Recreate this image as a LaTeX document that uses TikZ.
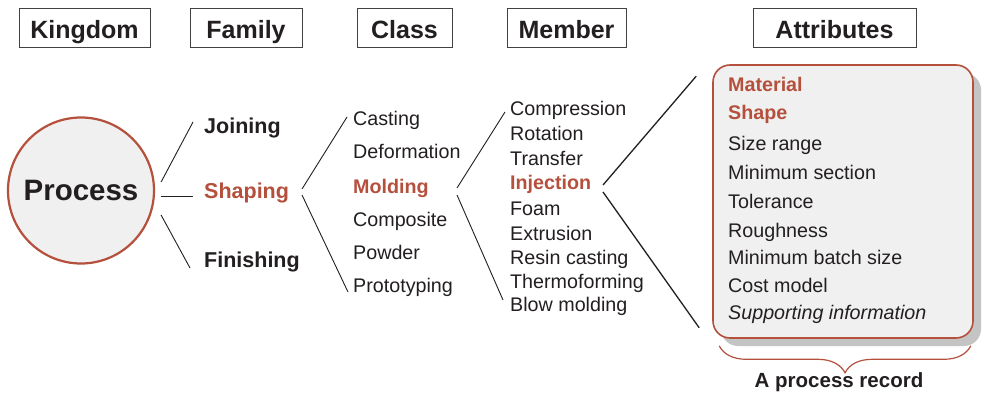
\documentclass[tikz,border=0pt]{standalone}
\usepackage{fontspec}
\setmainfont{Liberation Sans}
\usetikzlibrary{shadows,decorations.pathreplacing}
\definecolor{recred}{HTML}{B5503C}
\definecolor{ink}{HTML}{231F20}
\definecolor{panel}{HTML}{F0F0F0}
\definecolor{shade}{HTML}{C4C4C4}
\begin{document}
\begin{tikzpicture}[x=1pt,y=-1pt,
  hdr/.style={draw=ink!85, line width=0.9pt, minimum height=39pt, inner sep=0pt, text=ink,
    text height=22pt, text depth=0pt,
    font=\fontsize{25}{29}\selectfont\bfseries},
  fam/.style={anchor=base west, inner sep=0pt, text=ink, font=\fontsize{21.5}{25}\selectfont\bfseries},
  famhl/.style={fam, text=recred},
  item/.style={anchor=base west, inner sep=0pt, text=ink, font=\fontsize{19.7}{23}\selectfont},
  itemhl/.style={anchor=base west, inner sep=0pt, text=recred, font=\fontsize{19.7}{23}\selectfont\bfseries},
  itemit/.style={anchor=base west, inner sep=0pt, text=ink, font=\fontsize{19.7}{23}\selectfont\itshape},
  conn/.style={draw=ink, line width=0.9pt},
  connb/.style={draw=ink, line width=1.3pt},
]
\useasboundingbox[fill=white] (0,0) rectangle (984,396);

% headers
\node[hdr, minimum width=131pt] (hk) at (84.5,27.5) {Kingdom};
\node[hdr, minimum width=112pt] (hf) at (246,27.5) {Family};
\node[hdr, minimum width=95pt]  (hc) at (404.5,27.5) {Class};
\node[hdr, minimum width=119pt] (hm) at (566.5,27.5) {Member};
\node[hdr, minimum width=163pt] (ha) at (834.5,27.5) {Attributes};

% kingdom
\node[circle, draw=recred, line width=2.2pt, fill=panel, minimum size=146pt, inner sep=0pt,
  text=ink, font=\fontsize{29.5}{33}\selectfont\bfseries] (process) at (81,190.5) {Process};

% family
\node[fam]   (joining)   at (204,133) {Joining};
\node[famhl] (shaping)   at (204,198) {Shaping};
\node[fam]   (finishing) at (204,267) {Finishing};

% class
\node[item]   (casting)     at (353,125) {Casting};
\node[item]   (deformation) at (353,158) {Deformation};
\node[itemhl] (molding)     at (353,193) {Molding};
\node[item]   (composite)   at (353,226) {Composite};
\node[item]   (powder)      at (353,259) {Powder};
\node[item]   (prototyping) at (353,292) {Prototyping};

% member
\node[item]   (compression) at (510,115) {Compression};
\node[item]   (rotation)    at (510,140) {Rotation};
\node[item]   (transfer)    at (510,165) {Transfer};
\node[itemhl] (injection)   at (510,189) {Injection};
\node[item]   (foam)        at (510,215) {Foam};
\node[item]   (extrusion)   at (510,240) {Extrusion};
\node[item]   (resin)       at (510,264) {Resin casting};
\node[item]   (thermo)      at (510,288) {Thermoforming};
\node[item]   (blow)        at (510,311) {Blow molding};

% record box
\node[draw=recred, line width=1.6pt, fill=panel, rounded corners=17pt,
  minimum width=260pt, minimum height=273pt, inner sep=0pt,
  drop shadow={shadow xshift=8pt, shadow yshift=-8pt, fill=shade, opacity=1}] (record) at (843,201.5) {};

\node[itemhl] (a1) at (728,91)  {Material};
\node[itemhl] (a2) at (728,119) {Shape};
\node[item]   (a3) at (728,150) {Size range};
\node[item]   (a4) at (728,179) {Minimum section};
\node[item]   (a5) at (728,208) {Tolerance};
\node[item]   (a6) at (728,237) {Roughness};
\node[item]   (a7) at (728,264) {Minimum batch size};
\node[item]   (a8) at (728,292) {Cost model};
\node[itemit] (a9) at (728,319) {Supporting information};

% brace and label
\draw[recred, line width=1.2pt, decorate, decoration={brace, amplitude=27pt}]
  ([shift={(-3,7)}]record.south east) -- ([shift={(7,7)}]record.south west);
\node[anchor=base, inner sep=0pt, text=ink, font=\fontsize{20.5}{24}\selectfont\bfseries]
  (reclabel) at (839,387) {A process record};

% connectors
\draw[conn] ([shift={(6,-8.5)}]process.east) -- ([shift={(-11,-11)}]joining.base west);
\draw[conn] ([shift={(6,5.5)}]process.east)  -- ([shift={(-11,-2)}]shaping.base west);
\draw[conn] ([shift={(6,24.5)}]process.east) -- ([shift={(-14,1)}]finishing.base west);

\draw[conn] ([shift={(98,-9)}]shaping.base west) -- ([shift={(-6,-8)}]casting.base west);
\draw[conn] ([shift={(98,-3)}]shaping.base west) -- ([shift={(-5,0)}]prototyping.base west);

\draw[conn] ([shift={(104,-5)}]molding.base west) -- ([shift={(-5,-3)}]compression.base west);
\draw[conn] ([shift={(104,2)}]molding.base west)  -- ([shift={(-7,-11)}]blow.base west);

\draw[connb] ([shift={(93,-4)}]injection.base west) -- ([shift={(-16,12)}]record.north west);
\draw[connb] ([shift={(93,3)}]injection.base west)  -- ([shift={(-13,-11)}]record.south west);
\end{tikzpicture}
\end{document}
